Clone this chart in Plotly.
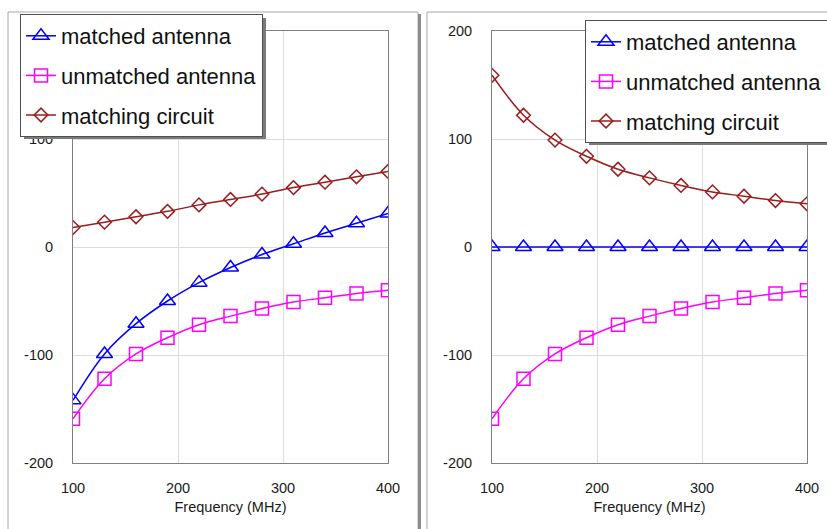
import plotly.graph_objects as go
from plotly.subplots import make_subplots

# ---------------- data ----------------
freq = [100, 130, 160, 190, 220, 250, 280, 310, 340, 370, 400]

left_matched = [-142, -99, -71, -50, -33, -19, -7, 3, 13, 22, 31]
left_unmatched = [-159, -122, -99, -84, -72, -64, -57, -51, -47, -43, -40]
left_circuit = [18, 23, 28, 33, 39, 44, 49, 55, 60, 65, 70]

right_matched = [0, 0, 0, 0, 0, 0, 0, 0, 0, 0, 0]
right_unmatched = [-159, -122, -99, -84, -72, -64, -57, -51, -47, -43, -40]
right_circuit = [159, 122, 99, 84, 72, 64, 57, 51, 47, 43, 40]

series_names = ["matched antenna", "unmatched antenna", "matching circuit"]
x_ticks = [100, 200, 300, 400]
y_ticks = [-200, -100, 0, 100, 200]
y_tick_text = ["-200", "-100", "0", "100", "200"]
x_title = "Frequency (MHz)"

# ---------------- styles ----------------
W, H = 827, 529
FONT = "Liberation Sans, Arial, sans-serif"
colors = ["#0000ff", "#ff00ff", "#9a1c1c"]
symbols = ["triangle-up-open", "square-open", "diamond-open"]
sizes = [14, 13, 10.5]


def px(x):
    return x / W


def py(y):
    return 1 - y / H


fig = make_subplots(rows=1, cols=2)

panels = [
    (1, "legend", [left_matched, left_unmatched, left_circuit]),
    (2, "legend2", [right_matched, right_unmatched, right_circuit]),
]
for col, leg, ys in panels:
    for i, (name, yv) in enumerate(zip(series_names, ys)):
        fig.add_trace(
            go.Scatter(
                x=freq, y=yv, name=name,
                mode="lines+markers",
                line=dict(color=colors[i], width=1.5, shape="spline", smoothing=1.0),
                marker=dict(symbol=symbols[i], size=sizes[i], color=colors[i],
                            line=dict(color=colors[i], width=1.5)),
                legend=leg,
                legendgroup=f"{leg}_{i}",
            ),
            row=1, col=col,
        )

axis_common = dict(
    showgrid=True, gridcolor="#dcdcdc", gridwidth=1,
    showline=True, mirror=True, linecolor="#808080", linewidth=1,
    zeroline=False, ticks="", automargin=False,
    tickfont=dict(family=FONT, size=14.5, color="#1a1a1a"),
)

for xa, dom in (("xaxis", [px(73), px(388)]), ("xaxis2", [px(492), px(807)])):
    fig.layout[xa].update(
        domain=dom, range=[100, 400], tickvals=x_ticks,
        ticklabelstandoff=12,
        title=dict(text=x_title, font=dict(family=FONT, size=14.5, color="#1a1a1a"), standoff=6),
        **axis_common,
    )
for ya in ("yaxis", "yaxis2"):
    fig.layout[ya].update(
        domain=[py(463), py(31)], range=[-200, 200],
        tickvals=y_ticks, ticktext=y_tick_text,
        ticklabelstandoff=16,
        **axis_common,
    )

leg_common = dict(
    bgcolor="#ffffff", bordercolor="#505050", borderwidth=1,
    font=dict(family=FONT, size=22, color="#111111"),
    tracegroupgap=8, xanchor="left", yanchor="top",
    itemclick=False, itemdoubleclick=False,
)
fig.update_layout(
    legend=dict(x=px(20), y=py(14), **leg_common),
    legend2=dict(x=px(585), y=py(20), **leg_common),
)

shapes = [
    # panel frames
    dict(type="rect", xref="paper", yref="paper", x0=px(8), x1=px(418), y0=py(545), y1=py(12),
         line=dict(color="#a8a8a8", width=1), fillcolor="rgba(0,0,0,0)", layer="below"),
    dict(type="rect", xref="paper", yref="paper", x0=px(418), x1=px(421), y0=py(545), y1=py(14),
         line=dict(width=0), fillcolor="#8c8c8c", layer="below"),
    dict(type="rect", xref="paper", yref="paper", x0=px(427), x1=px(860), y0=py(545), y1=py(12),
         line=dict(color="#a8a8a8", width=1), fillcolor="rgba(0,0,0,0)", layer="below"),
    # legend shadows
    dict(type="rect", xref="paper", yref="paper", x0=px(24), x1=px(266), y0=py(139), y1=py(18),
         line=dict(width=0), fillcolor="#7a7a7a", layer="above"),
    dict(type="rect", xref="paper", yref="paper", x0=px(589), x1=px(827), y0=py(145), y1=py(24),
         line=dict(width=0), fillcolor="#7a7a7a", layer="above"),
]

fig.update_layout(
    width=W, height=H,
    margin=dict(l=0, r=0, t=0, b=0, autoexpand=False),
    paper_bgcolor="#ffffff", plot_bgcolor="#ffffff",
    shapes=shapes,
    font=dict(family=FONT),
)

fig.write_html("out.html")
